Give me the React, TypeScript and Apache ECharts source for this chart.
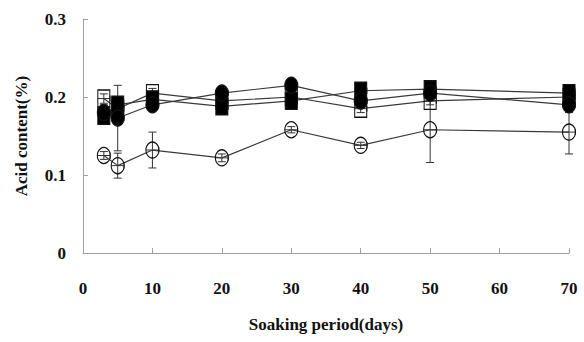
import React, { useEffect, useRef } from "react";
import * as echarts from "echarts";

const days = [3, 5, 10, 20, 30, 40, 50, 70];
const openCircle = [0.125, 0.112, 0.132, 0.122, 0.158, 0.138, 0.158, 0.155];
const openCircleErr = [0.005, 0.016, 0.023, 0.005, 0.004, 0.004, 0.042, 0.028];
const openSquare = [0.198, 0.185, 0.205, 0.195, 0.2, 0.185, 0.195, 0.2];
const openSquareErr = [0.006, 0.006, 0.006, 0.005, 0.005, 0.005, 0.005, 0.005];
const filledSquare = [0.176, 0.19, 0.197, 0.188, 0.195, 0.208, 0.21, 0.205];
const filledSquareErr = [0.01, 0.01, 0.006, 0.01, 0.008, 0.006, 0.01, 0.005];
const filledCircle = [0.18, 0.173, 0.19, 0.205, 0.215, 0.195, 0.205, 0.19];
const filledCircleErr = [0.01, 0.042, 0.006, 0.006, 0.005, 0.005, 0.01, 0.01];
const xTicks = [0, 10, 20, 30, 40, 50, 60, 70];
const yTicks = [0, 0.1, 0.2, 0.3];

const FONT = "'Liberation Serif', 'Times New Roman', serif";

function errSeries(vals: number[], errs: number[]) {
  return {
    type: "custom",
    z: 1,
    silent: true,
    data: days.map((d, i) => [d, vals[i], errs[i]]),
    renderItem: (_p: any, api: any) => {
      const x = api.value(0);
      const y = api.value(1);
      const e = api.value(2);
      const top = api.coord([x, y + e]);
      const bot = api.coord([x, y - e]);
      const c = api.coord([x, y]);
      const left = api.coord([x - 0.9, y]);
      const right = api.coord([x + 0.9, y]);
      const cap = 4;
      const st = { stroke: "#333", lineWidth: 1 };
      return {
        type: "group",
        children: [
          { type: "line", shape: { x1: top[0], y1: top[1], x2: bot[0], y2: bot[1] }, style: st },
          { type: "line", shape: { x1: top[0] - cap, y1: top[1], x2: top[0] + cap, y2: top[1] }, style: st },
          { type: "line", shape: { x1: bot[0] - cap, y1: bot[1], x2: bot[0] + cap, y2: bot[1] }, style: st },
          { type: "line", shape: { x1: left[0], y1: c[1], x2: right[0], y2: c[1] }, style: st },
          { type: "line", shape: { x1: right[0], y1: c[1] - 3, x2: right[0], y2: c[1] + 3 }, style: st },
        ],
      };
    },
  };
}

function lineSeries(vals: number[], symbol: string, filled: boolean) {
  return {
    type: "line",
    z: 3,
    data: days.map((d, i) => [d, vals[i]]),
    symbol,
    symbolSize: symbol === "rect" ? [12, 17] : [13, 16],
    showAllSymbol: true,
    lineStyle: { color: "#3a3a3a", width: 1.2 },
    itemStyle: {
      color: filled ? "#000" : "rgba(255,255,255,0)",
      borderColor: "#111",
      borderWidth: 1.2,
    },
  };
}

export default function App() {
  const ref = useRef<HTMLDivElement>(null);
  useEffect(() => {
    if (!ref.current) return;
    const chart = echarts.init(ref.current, undefined, { renderer: "svg" });
    chart.setOption({
      animation: false,
      backgroundColor: "#fff",
      grid: { left: 83, right: 15, top: 19, bottom: 89 },
      xAxis: {
        type: "value",
        min: 0,
        max: 70,
        interval: 10,
        name: "Soaking period(days)",
        nameLocation: "middle",
        nameGap: 63,
        nameTextStyle: { fontFamily: FONT, fontWeight: "bold", fontSize: 17, color: "#111" },
        axisLine: { lineStyle: { color: "#a0a0a0", width: 1 } },
        axisTick: { inside: true, length: 5, lineStyle: { color: "#a0a0a0" } },
        axisLabel: {
          fontFamily: FONT,
          fontWeight: "bold",
          fontSize: 17,
          color: "#111",
          margin: 27,
          formatter: (v: number) => (xTicks.includes(v) ? String(v) : ""),
        },
        splitLine: { show: false },
      },
      yAxis: {
        type: "value",
        min: 0,
        max: 0.3,
        interval: 0.1,
        name: "Acid content(%)",
        nameLocation: "middle",
        nameGap: 53,
        nameTextStyle: { fontFamily: FONT, fontWeight: "bold", fontSize: 17, color: "#111" },
        axisLine: { show: true, lineStyle: { color: "#a0a0a0", width: 1 } },
        axisTick: { show: true, inside: true, length: 5, lineStyle: { color: "#a0a0a0" } },
        axisLabel: {
          fontFamily: FONT,
          fontWeight: "bold",
          fontSize: 17,
          color: "#111",
          margin: 17,
          formatter: (v: number) => {
            const t = yTicks.find((k) => Math.abs(k - v) < 1e-9);
            return t === undefined ? "" : t === 0 ? "0" : t.toFixed(1);
          },
        },
        splitLine: { show: false },
      },
      series: [
        errSeries(openCircle, openCircleErr),
        errSeries(openSquare, openSquareErr),
        errSeries(filledSquare, filledSquareErr),
        errSeries(filledCircle, filledCircleErr),
        lineSeries(openCircle, "circle", false),
        lineSeries(openSquare, "rect", false),
        lineSeries(filledSquare, "rect", true),
        lineSeries(filledCircle, "circle", true),
      ],
    });
    return () => chart.dispose();
  }, []);
  return <div ref={ref} style={{ width: 584, height: 342, position: "absolute", left: 0, top: 0 }} />;
}
